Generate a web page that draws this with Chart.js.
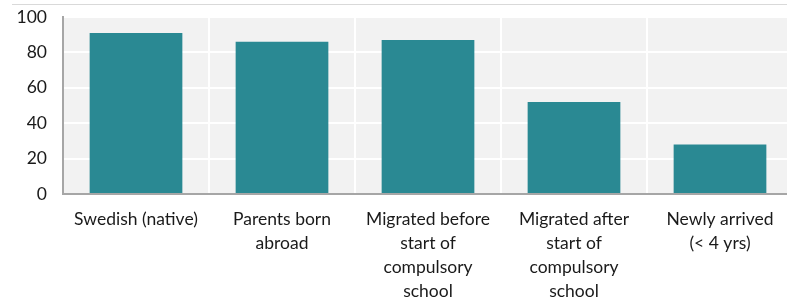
<!DOCTYPE html>
<html>
<head>
<meta charset="utf-8">
<script src="https://cdn.jsdelivr.net/npm/chart.js@4.4.1/dist/chart.umd.min.js"></script>
<style>
  html, body { margin: 0; padding: 0; background: #fff; overflow: hidden; }
  #topLine { position: absolute; left: 12px; top: 4px; width: 790px; border-top: 1px solid #d9d9d9; }
  #wrap { position: absolute; left: 0; top: 0; width: 793px; height: 298px; }
</style>
</head>
<body>
<div id="topLine"></div>
<div id="wrap"><canvas id="barChart"></canvas></div>
<script>
'use strict';

const categories = [
    ['Swedish (native)'],
    ['Parents born', 'abroad'],
    ['Migrated before', 'start of', 'compulsory', 'school'],
    ['Migrated after', 'start of', 'compulsory', 'school'],
    ['Newly arrived', '(< 4 yrs)']
];
const values = [91, 86, 87, 52, 28];
const yTicks = [0, 20, 40, 60, 80, 100];

const plotBackground = {
    id: 'plotBackground',
    beforeDraw(chart) {
        const a = chart.chartArea;
        const ctx = chart.ctx;
        ctx.save();
        ctx.fillStyle = '#f2f2f2';
        ctx.fillRect(a.left, a.top, a.right - a.left, a.bottom - a.top);
        ctx.restore();
    }
};

let barChart = document.querySelector('#barChart');
new Chart(barChart, {
    type: 'bar',
    data: {
        labels: categories,
        datasets: [
            {
                data: values,
                backgroundColor: '#2a8993',
                barPercentage: 0.635,
                categoryPercentage: 1
            }
        ]
    },
    plugins: [plotBackground],
    options: {
        responsive: true,
        maintainAspectRatio: false,
        animation: false,
        layout: { padding: { top: 17, left: 0, right: 0, bottom: 0 } },
        plugins: {
            legend: { display: false },
            tooltip: { enabled: false }
        },
        scales: {
            x: {
                grid: { color: '#ffffff', lineWidth: 2, drawTicks: false, offset: true },
                border: { color: '#a6a6a6', width: 2 },
                ticks: {
                    color: '#1a1a1a',
                    font: { family: 'Lato', size: 17.5, lineHeight: '24px' },
                    padding: 13,
                    maxRotation: 0,
                    autoSkip: false
                },
                afterFit(scale) { scale.height = 104; }
            },
            y: {
                min: 0,
                max: 100,
                afterBuildTicks(scale) { scale.ticks = yTicks.map(v => ({ value: v })); },
                grid: { color: '#ffffff', lineWidth: 2, drawTicks: false },
                border: { color: '#a6a6a6', width: 2 },
                ticks: { color: '#1a1a1a', font: { family: 'Lato', size: 17.5 }, padding: 16 },
                afterFit(scale) {
                    scale.width = 63;
                    scale.paddingTop = 0;
                    scale.paddingBottom = 0;
                }
            }
        }
    }
});
</script>
</body>
</html>
